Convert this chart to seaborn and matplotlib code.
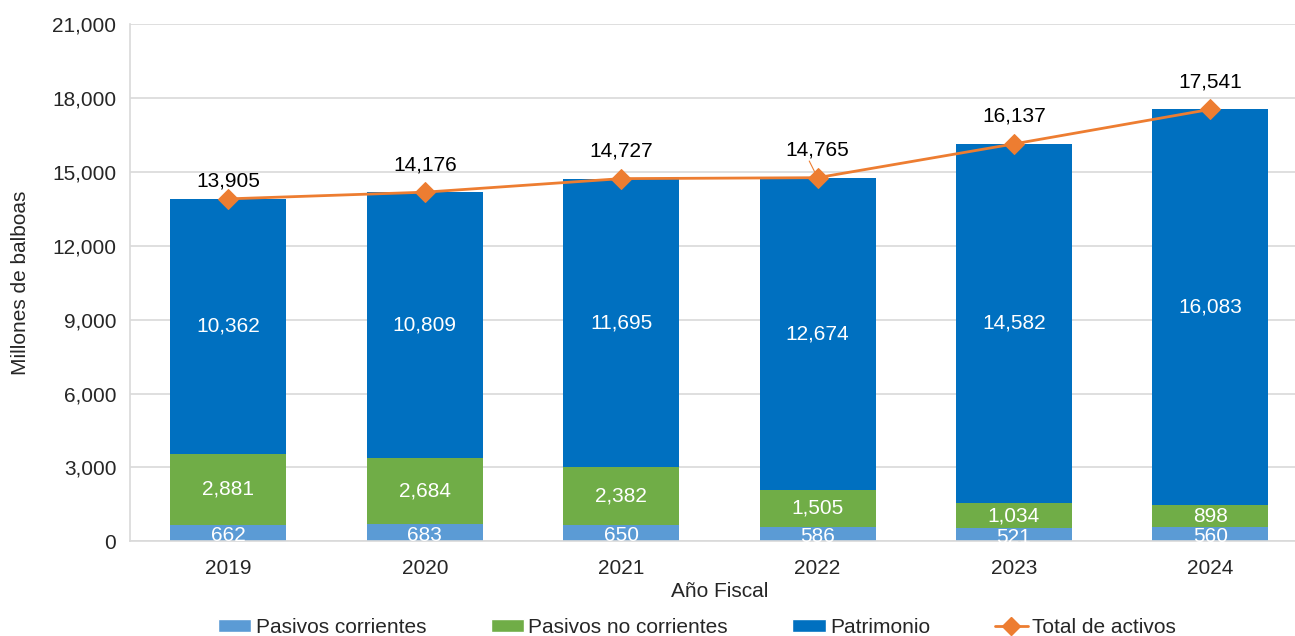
import matplotlib
matplotlib.use("Agg")
import matplotlib.pyplot as plt
from matplotlib.patches import Patch
from matplotlib.lines import Line2D
import seaborn as sns
import pandas as pd
import numpy as np

# data
years = ["2019", "2020", "2021", "2022", "2023", "2024"]
pasivos_corrientes = [662, 683, 650, 586, 521, 560]
pasivos_no_corrientes = [2881, 2684, 2382, 1505, 1034, 898]
patrimonio = [10362, 10809, 11695, 12674, 14582, 16083]
total_activos = [13905, 14176, 14727, 14765, 16137, 17541]

c_pc = "#5B9BD5"
c_pnc = "#70AD47"
c_pat = "#0070C0"
c_tot = "#ED7D31"

sns.set_style("white")
plt.rcParams["font.family"] = ["Liberation Sans", "DejaVu Sans"]

df = pd.DataFrame({
    "year": years,
    "pc": pasivos_corrientes,
    "pnc": pasivos_no_corrientes,
    "pat": patrimonio,
    "tot": total_activos,
})
df["b2"] = df["pc"]
df["b3"] = df["pc"] + df["pnc"]

fig = plt.figure(figsize=(12.95, 6.36), dpi=100)
ax = fig.add_axes([0.1005, 0.149, 0.910, 0.813])

w = 0.59
sns.barplot(data=df, x="year", y="pc", color=c_pc, width=w, saturation=1,
            ax=ax, linewidth=0, zorder=2)
sns.barplot(data=df, x="year", y="pnc", bottom=df["b2"], color=c_pnc, width=w,
            saturation=1, ax=ax, linewidth=0, zorder=2)
sns.barplot(data=df, x="year", y="pat", bottom=df["b3"], color=c_pat, width=w,
            saturation=1, ax=ax, linewidth=0, zorder=2)

xpos = np.arange(len(years))
sns.lineplot(x=xpos, y=df["tot"], color=c_tot, marker="D", markersize=10,
             markeredgecolor=c_tot, linewidth=2, ax=ax, legend=False, zorder=4)

fs = 15
# labels inside bars
for i in range(len(years)):
    ax.text(i, df["pc"][i] / 2 - 90, f"{df['pc'][i]:,}", ha="center", va="center",
            color="white", fontsize=fs, zorder=5)
    ax.text(i, df["b2"][i] + df["pnc"][i] / 2, f"{df['pnc'][i]:,}", ha="center",
            va="center", color="white", fontsize=fs, zorder=5)
    ax.text(i, df["b3"][i] + df["pat"][i] / 2, f"{df['pat'][i]:,}", ha="center",
            va="center", color="white", fontsize=fs, zorder=5)

# total labels above the markers (offsets in points)
offsets = [6, 13, 13, 13, 13, 13]
for i in range(len(years)):
    ax.annotate(f"{df['tot'][i]:,}", xy=(i, df["tot"][i]),
                xytext=(0, offsets[i]), textcoords="offset points",
                ha="center", va="bottom", fontsize=fs, color="black", zorder=5)
# small leader line for 2022 label
ax.annotate("", xy=(3, df["tot"][3]), xytext=(-6, 12), textcoords="offset points",
            arrowprops=dict(arrowstyle="-", color=c_tot, linewidth=0.8,
                            shrinkA=0, shrinkB=5), zorder=3)

ax.set_ylim(0, 21000)
ax.set_xlim(-0.5, 5.5)
ax.set_yticks(range(0, 21001, 3000))
ax.set_yticklabels([f"{v:,}" for v in range(0, 21001, 3000)])
ax.tick_params(axis="both", labelsize=fs, length=0, pad=10)
ax.tick_params(axis="x", pad=13)
ax.yaxis.grid(True, color="#D9D9D9", linewidth=1.2, zorder=0)
ax.set_axisbelow(True)
for s in ["top", "right"]:
    ax.spines[s].set_visible(False)
ax.spines["left"].set_color("#D9D9D9")
ax.spines["bottom"].set_color("#D9D9D9")
ax.spines["left"].set_linewidth(1.2)
ax.spines["bottom"].set_linewidth(1.2)

ax.set_xlabel("Año Fiscal", fontsize=fs, labelpad=3)
ax.set_ylabel("Millones de balboas", fontsize=fs, labelpad=16)

handles = [
    Patch(facecolor=c_pc, label="Pasivos corrientes"),
    Patch(facecolor=c_pnc, label="Pasivos no corrientes"),
    Patch(facecolor=c_pat, label="Patrimonio"),
    Line2D([0], [0], color=c_tot, marker="D", markersize=9, linewidth=2,
           label="Total de activos"),
]
ax.legend(handles=handles, loc="center", bbox_to_anchor=(0.481, -0.166), ncol=4,
          frameon=False, fontsize=fs, handlelength=1.6, handleheight=0.6,
          columnspacing=3.1, handletextpad=0.2, borderaxespad=0)

fig.savefig("out.png", dpi=100)
